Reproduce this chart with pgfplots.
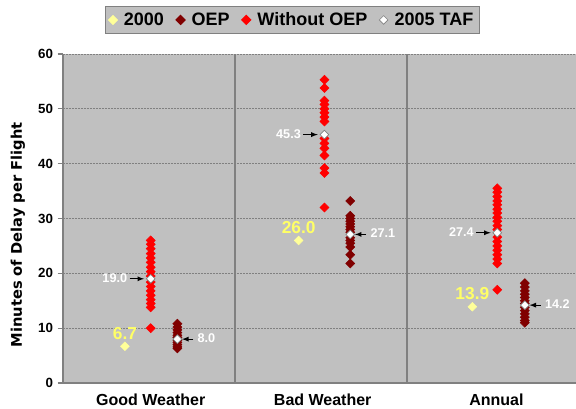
\documentclass[border=0pt]{standalone}
\usepackage{fontspec}
\setmainfont{Liberation Sans}
\usepackage{pgfplots}
\pgfplotsset{compat=1.18}
\definecolor{bg}{HTML}{C0C0C0}
\definecolor{grd}{HTML}{808080}
\definecolor{darkred}{HTML}{800000}
\definecolor{lyellow}{HTML}{FFFF99}
\definecolor{labyellow}{HTML}{FFFF66}
\tikzset{
  ylab/.style={font=\bfseries\fontsize{13}{15}\selectfont, text=labyellow, anchor=base, inner sep=0pt, yshift=5.5pt},
  tlabL/.style={font=\bfseries\fontsize{9.5}{11}\selectfont, text=white, anchor=mid east, inner sep=0pt, xshift=-17.5pt},
  tlabR/.style={font=\bfseries\fontsize{9.5}{11}\selectfont, text=white, anchor=mid west, inner sep=0pt, xshift=15pt},
  tarr/.style={-latex, black, line width=0.7pt}
}
\begin{document}
\begin{tikzpicture}
\useasboundingbox (-47.25pt,-19.5pt) rectangle (384.75pt,287.25pt);
\begin{axis}[
 at={(0,0)}, anchor=south west,
 width=384.75pt, height=246.75pt, scale only axis,
 xmin=0.5, xmax=3.4826, ymin=0, ymax=60,
 axis x line*=bottom, axis y line*=left,
 axis line style={grd, line width=0.8pt},
 axis background/.style={fill=bg},
 ytick={0,10,...,60},
 ymajorgrids, major grid style={grd, dash pattern=on 1.5pt off 0.75pt, line width=0.6pt},
 xtick={1.01,2.01,3.02}, xticklabels={Good Weather, Bad Weather, Annual},
 x tick style={draw=none},
 y tick style={grd, line width=0.8pt}, tick align=outside, major tick length=4pt,
 extra x ticks={1.5,2.5}, extra x tick labels={},
 extra x tick style={grid=major, major grid style={solid, grd, line width=1.5pt}, tick style={draw=none}},
 /pgf/number format/assume math mode=true,
 yticklabel style={font=\bfseries\fontsize{10}{11}\selectfont},
 xticklabel style={font=\bfseries\fontsize{12}{14}\selectfont, yshift=-1pt},
 ylabel={Minutes of Delay per Flight},
 ylabel style={font=\fontspec{DejaVu Sans}\bfseries\fontsize{11}{12}\selectfont, at={(axis description cs:-0.0877,0.45)}, anchor=center},
 clip=false,
 legend columns=4,
 legend style={fill=bg, draw=grd, line width=0.8pt, at={(axis description cs:0.447,1)}, anchor=south, yshift=15pt,
   font=\bfseries\fontsize{13.5}{16}\selectfont, inner sep=2.5pt,
   /tikz/every odd column/.append style={column sep=3pt},
   /tikz/every even column/.append style={column sep=7pt}},
 legend image code/.code={\draw[mark repeat=2,mark phase=2,#1] plot coordinates {(0cm,0cm) (0.15cm,0cm) (0.3cm,0cm)};},
]
% 2000
\addplot[only marks, mark=square*, mark options={rotate=45}, mark size=2.3pt, draw=lyellow, fill=lyellow] coordinates {
 (0.86,6.7) (1.87,26.0) (2.88,13.9)};
\addlegendentry{2000}
% OEP
\addplot[only marks, mark=square*, mark options={rotate=45}, mark size=2.4pt, draw=darkred, fill=darkred] coordinates {
 (1.165,10.8) (1.165,10.2) (1.165,9.7) (1.165,9.2) (1.165,8.7) (1.165,8.3) (1.165,7.8) (1.165,7.4) (1.165,7.0) (1.165,6.6) (1.165,6.3)
 (2.17,33.2) (2.17,30.5) (2.17,30.0) (2.17,29.5) (2.17,29.0) (2.17,28.5) (2.17,28.0) (2.17,27.5) (2.17,26.5) (2.17,26.0) (2.17,25.5) (2.17,24.8) (2.17,23.4) (2.17,21.8)
 (3.185,18.2) (3.185,17.5) (3.185,16.8) (3.185,16.2) (3.185,15.6) (3.185,15.0) (3.185,14.5) (3.185,13.8) (3.185,13.2) (3.185,12.6) (3.185,12.0) (3.185,11.4) (3.185,11.0)};
\addlegendentry{OEP}
% Without OEP
\addplot[only marks, mark=square*, mark options={rotate=45}, mark size=2.4pt, draw=red, fill=red] coordinates {
 (1.01,26.0) (1.01,25.3) (1.01,24.5) (1.01,23.6) (1.01,22.8) (1.01,22.0) (1.01,21.1) (1.01,20.3) (1.01,19.5) (1.01,18.4) (1.01,17.6) (1.01,16.8) (1.01,16.0) (1.01,15.2) (1.01,14.5) (1.01,13.8) (1.01,10.0)
 (2.02,55.3) (2.02,53.8) (2.02,51.5) (2.02,50.8) (2.02,50.0) (2.02,49.3) (2.02,48.5) (2.02,47.7) (2.02,44.6) (2.02,43.7) (2.02,42.8) (2.02,41.5) (2.02,39.2) (2.02,38.3) (2.02,32.0)
 (3.025,35.5) (3.025,34.8) (3.025,34.0) (3.025,33.2) (3.025,32.5) (3.025,31.7) (3.025,31.0) (3.025,30.2) (3.025,29.5) (3.025,28.7) (3.025,28.0) (3.025,26.6) (3.025,25.8) (3.025,25.0) (3.025,24.2) (3.025,23.4) (3.025,22.6) (3.025,21.8) (3.025,17.0)};
\addlegendentry{Without OEP}
% 2005 TAF
\addplot[only marks, mark=square*, mark options={rotate=45}, mark size=2.3pt, draw=grd, fill=white, line width=0.5pt] coordinates {
 (1.01,19.0) (1.165,8.0) (2.02,45.3) (2.17,27.1) (3.025,27.4) (3.185,14.2)};
\addlegendentry{2005 TAF}
% yellow labels
\node[ylab, yshift=-0.5pt] at (axis cs:0.86,6.7) {6.7};
\node[ylab] at (axis cs:1.87,26.0) {26.0};
\node[ylab] at (axis cs:2.88,13.9) {13.9};
% TAF labels with arrows
\draw[tarr] ([xshift=-15.75pt]axis cs:1.01,19.0) -- ([xshift=-5pt]axis cs:1.01,19.0);
\node[tlabL] at (axis cs:1.01,19.0) {19.0};
\draw[tarr] ([xshift=-15.75pt]axis cs:2.02,45.3) -- ([xshift=-5pt]axis cs:2.02,45.3);
\node[tlabL] at (axis cs:2.02,45.3) {45.3};
\draw[tarr] ([xshift=-15.75pt]axis cs:3.025,27.4) -- ([xshift=-5pt]axis cs:3.025,27.4);
\node[tlabL] at (axis cs:3.025,27.4) {27.4};
\draw[tarr] ([xshift=12pt]axis cs:1.165,8.0) -- ([xshift=3.5pt]axis cs:1.165,8.0);
\node[tlabR] at (axis cs:1.165,8.0) {8.0};
\draw[tarr] ([xshift=12pt]axis cs:2.17,27.1) -- ([xshift=3.5pt]axis cs:2.17,27.1);
\node[tlabR] at (axis cs:2.17,27.1) {27.1};
\draw[tarr] ([xshift=12pt]axis cs:3.185,14.2) -- ([xshift=3.5pt]axis cs:3.185,14.2);
\node[tlabR] at (axis cs:3.185,14.2) {14.2};
\end{axis}
\end{tikzpicture}
\end{document}
